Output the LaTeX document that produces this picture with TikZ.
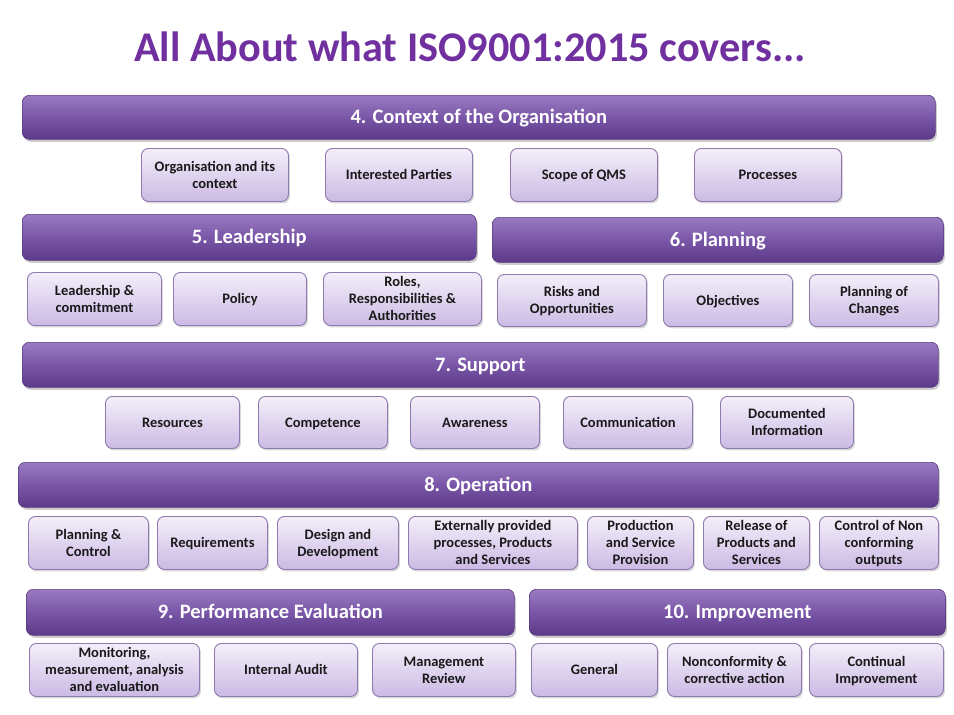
\documentclass[tikz,border=0pt]{standalone}
\usepackage{fontspec}
\setmainfont{Carlito}
\usetikzlibrary{shadows}
\definecolor{titlec}{HTML}{7030A0}
\definecolor{htop}{HTML}{997BC1}
\definecolor{hmid}{HTML}{7A56A8}
\definecolor{hbot}{HTML}{5D3988}
\definecolor{btop}{HTML}{F4EFFA}
\definecolor{bbot}{HTML}{CBBAE4}
\definecolor{bline}{HTML}{8E7AAE}
\definecolor{hline}{HTML}{5A3A82}
\newcommand\substrut{\rule[-3.8pt]{0pt}{17pt}}
\newcommand\hdrstrut{\rule[-5.4pt]{0pt}{24pt}}
\newcommand\bx[6]{\node[sub, anchor=north west, minimum width={#3-#2}, minimum height={#5-#4}] (#1) at (#2,#4) {\substrut#6\substrut};}
\newcommand\hx[6]{\node[hdr, anchor=north west, minimum width={#3-#2}, minimum height={#5-#4}] (#1) at (#2,#4) {\hdrstrut#6};}
\begin{document}
\begin{tikzpicture}[x=1pt,y=-1pt,
  sub/.style={draw=bline, line width=0.9pt, rounded corners=7pt,
    top color=btop, bottom color=bbot, align=center, inner sep=1pt,
    font=\fontsize{14.5}{17}\selectfont\bfseries, text=black!90,
    drop shadow={opacity=0.3, shadow xshift=1.5pt, shadow yshift=-2pt}},
  hdr/.style={draw=hline, line width=0.6pt, rounded corners=7pt,
    top color=htop, bottom color=hbot, middle color=hmid, align=center, inner sep=1pt,
    font=\fontsize{20.5}{24}\selectfont\bfseries, text=white,
    drop shadow={opacity=0.4, shadow xshift=1.5pt, shadow yshift=-2.5pt}}]
\fill[white] (0,0) rectangle (954,715);
\useasboundingbox (0,0) rectangle (954,715);
\node[font=\fontsize{42.3}{48}\selectfont\bfseries, text=titlec] (title) at (470,47) {All About what ISO9001:2015 covers...};
% 4
\hx{h4}{22}{935}{95}{139}{4. Context of the Organisation}
\bx{c1}{141}{288}{148}{201}{Organisation and its\\context}
\bx{c2}{325}{472}{148}{201}{Interested Parties}
\bx{c3}{510}{657}{148}{201}{Scope of QMS}
\bx{c4}{694}{841}{148}{201}{Processes}
% 5 & 6
\hx{h5}{22}{476}{214}{260}{5. Leadership}
\hx{h6}{492}{943}{217}{262}{6. Planning}
\bx{l1}{27}{161}{272}{325}{Leadership \&\\commitment}
\bx{l2}{173}{306}{272}{325}{Policy}
\bx{l3}{323}{481}{272}{325}{Roles,\\Responsibilities \&\\Authorities}
\bx{p1}{497}{646}{274}{326}{Risks and\\Opportunities}
\bx{p2}{663}{792}{274}{326}{Objectives}
\bx{p3}{809}{938}{274}{326}{Planning of\\Changes}
% 7
\hx{h7}{22}{938}{342}{387}{7. Support}
\bx{s1}{105}{239}{396}{448}{Resources}
\bx{s2}{258}{387}{396}{448}{Competence}
\bx{s3}{410}{539}{396}{448}{Awareness}
\bx{s4}{563}{692}{396}{448}{Communication}
\bx{s5}{720}{853}{396}{448}{Documented\\Information}
% 8
\hx{h8}{18}{938}{462}{507}{8. Operation}
\bx{o1}{28}{148}{516}{569}{Planning \&\\Control}
\bx{o2}{157}{267}{516}{569}{Requirements}
\bx{o3}{277}{398}{516}{569}{Design and\\Development}
\bx{o4}{408}{577}{516}{569}{Externally provided\\processes, Products\\and Services}
\bx{o5}{587}{693}{516}{569}{Production\\and Service\\Provision}
\bx{o6}{703}{809}{516}{569}{Release of\\Products and\\Services}
\bx{o7}{819}{938}{516}{569}{Control of Non\\conforming\\outputs}
% 9 & 10
\hx{h9}{26}{514}{589}{635}{9. Performance Evaluation}
\hx{h10}{529}{945}{589}{635}{10. Improvement}
\bx{e1}{29}{199}{643}{696}{Monitoring,\\measurement, analysis\\and evaluation}
\bx{e2}{214}{357}{643}{696}{Internal Audit}
\bx{e3}{372}{515}{643}{696}{Management\\Review}
\bx{i1}{531}{657}{643}{696}{General}
\bx{i2}{667}{801}{643}{696}{Nonconformity \&\\corrective action}
\bx{i3}{809}{943}{643}{696}{Continual\\Improvement}
\end{tikzpicture}
\end{document}
